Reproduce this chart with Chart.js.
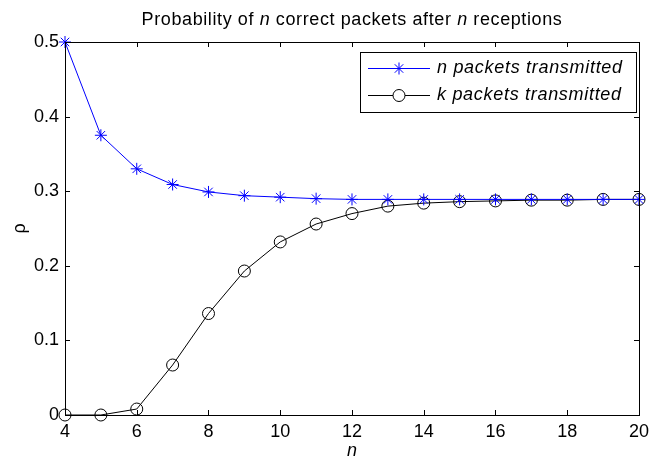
<!DOCTYPE html>
<html>
<head>
<meta charset="utf-8">
<script src="https://cdn.jsdelivr.net/npm/chart.js@4.4.1/dist/chart.umd.min.js"></script>
<style>
  html, body { margin: 0; padding: 0; background: #fff; }
  #wrap { width: 655px; height: 464px; }
</style>
</head>
<body>
<div id="wrap"><canvas id="chartProb"></canvas></div>
<script>
// numero di ricezioni n
const nValues = [4, 5, 6, 7, 8, 9, 10, 11, 12, 13, 14, 15, 16, 17, 18, 19, 20];
// n pacchetti trasmessi
const probN = [0.5, 0.375, 0.33, 0.309, 0.299, 0.294, 0.292, 0.290, 0.289, 0.289, 0.289, 0.289, 0.289, 0.289, 0.289, 0.289, 0.289];
// k pacchetti trasmessi
const probK = [0, 0, 0.008, 0.067, 0.136, 0.193, 0.232, 0.256, 0.270, 0.280, 0.284, 0.286, 0.287, 0.288, 0.288, 0.289, 0.289];
const seriesLabels = ["n packets transmitted", "k packets transmitted"];
const xTicks = [4, 6, 8, 10, 12, 14, 16, 18, 20];

const FONT = "Arial, 'Liberation Sans', sans-serif";
const FS = 18;

// --- box, tacche interne, titolo, etichette assi e legenda ---
const matlabFrame = {
  id: "matlabFrame",
  afterDraw(chart) {
    const ctx = chart.ctx;
    const a = chart.chartArea;
    const xs = chart.scales.x, ys = chart.scales.y;
    ctx.save();
    ctx.strokeStyle = "#000";
    ctx.lineWidth = 1;
    ctx.strokeRect(Math.round(a.left) + 0.5, Math.round(a.top) + 0.5,
                   Math.round(a.right - a.left), Math.round(a.bottom - a.top));
    ctx.beginPath();
    xs.ticks.forEach(t => {
      const px = Math.round(xs.getPixelForValue(t.value)) + 0.5;
      ctx.moveTo(px, a.bottom); ctx.lineTo(px, a.bottom - 5);
      ctx.moveTo(px, a.top); ctx.lineTo(px, a.top + 5);
    });
    ys.ticks.forEach(t => {
      const py = Math.round(ys.getPixelForValue(t.value)) + 0.5;
      ctx.moveTo(a.left, py); ctx.lineTo(a.left + 5, py);
      ctx.moveTo(a.right, py); ctx.lineTo(a.right - 5, py);
    });
    ctx.stroke();

    // titolo con n in corsivo
    ctx.letterSpacing = "0.6px";
    const parts = [["Probability of ", ""], ["n", "italic "], [" correct packets after ", ""], ["n", "italic "], [" receptions", ""]];
    let total = 0;
    parts.forEach(p => { ctx.font = p[1] + FS + "px " + FONT; total += ctx.measureText(p[0]).width; });
    let x = (a.left + a.right) / 2 - total / 2;
    ctx.fillStyle = "#000";
    ctx.textBaseline = "middle";
    ctx.textAlign = "left";
    parts.forEach(p => {
      ctx.font = p[1] + FS + "px " + FONT;
      ctx.fillText(p[0], x, 20);
      x += ctx.measureText(p[0]).width;
    });
    ctx.letterSpacing = "0px";

    // etichette assi
    ctx.font = "italic " + FS + "px " + FONT;
    ctx.textAlign = "center";
    ctx.fillText("n", (a.left + a.right) / 2, 451);
    ctx.save();
    ctx.translate(20, (a.top + a.bottom) / 2);
    ctx.rotate(-Math.PI / 2);
    ctx.font = FS + "px " + FONT;
    ctx.fillText("ρ", 0, 0);
    ctx.restore();

    // legenda
    const lg = { left: 360, top: 52, right: 636, bottom: 112 };
    ctx.fillStyle = "#fff";
    ctx.fillRect(lg.left, lg.top, lg.right - lg.left, lg.bottom - lg.top);
    ctx.strokeStyle = "#000";
    ctx.strokeRect(lg.left + 0.5, lg.top + 0.5, lg.right - lg.left, lg.bottom - lg.top);
    const rows = [68, 95];
    chart.data.datasets.forEach((ds, i) => {
      const y = rows[i];
      ctx.strokeStyle = ds.borderColor;
      ctx.lineWidth = 1;
      ctx.beginPath();
      ctx.moveTo(368, y + 0.5); ctx.lineTo(430, y + 0.5);
      ctx.stroke();
      ctx.fillStyle = i === 0 ? ds.borderColor : "#fff";
      Chart.helpers.drawPoint(ctx, {
        pointStyle: ds.pointStyle, radius: ds.pointRadius, borderWidth: 1, rotation: 0
      }, 399, y + 0.5);
      ctx.fillStyle = "#000";
      ctx.font = "italic " + FS + "px " + FONT;
      ctx.textAlign = "left";
      ctx.letterSpacing = "0.7px";
      ctx.fillText(ds.label, 437, y);
      ctx.letterSpacing = "0px";
    });
    ctx.restore();
  }
};

const chartProb = new Chart(document.getElementById("chartProb"), {
  type: "line",
  data: {
    datasets: [
      {
        label: seriesLabels[0],
        data: nValues.map((n, i) => ({ x: n, y: probN[i] })),
        borderColor: "#0000ff", backgroundColor: "#0000ff",
        borderWidth: 1, pointStyle: "star", pointRadius: 6,
        pointBorderColor: "#0000ff", pointBorderWidth: 1, clip: false
      },
      {
        label: seriesLabels[1],
        data: nValues.map((n, i) => ({ x: n, y: probK[i] })),
        borderColor: "#000000", backgroundColor: "rgba(0,0,0,0)",
        borderWidth: 1, pointStyle: "circle", pointRadius: 6,
        pointBorderColor: "#000000", pointBorderWidth: 1, clip: false
      }
    ]
  },
  options: {
    responsive: true, maintainAspectRatio: false, animation: false,
    layout: { padding: { top: 42, right: 12, left: 0, bottom: 0 } },
    plugins: { legend: { display: false }, tooltip: { enabled: false } },
    elements: { line: { tension: 0 } },
    scales: {
      x: {
        type: "linear", min: 4, max: 20,
        afterBuildTicks: s => { s.ticks = xTicks.map(v => ({ value: v })); },
        afterFit: s => { s.height = 49; },
        grid: { display: false, drawTicks: false },
        border: { display: false },
        ticks: { color: "#000", padding: 6, maxRotation: 0, font: { family: FONT, size: FS } }
      },
      y: {
        min: 0, max: 0.5,
        afterFit: s => { s.width = 65; },
        grid: { display: false, drawTicks: false },
        border: { display: false },
        ticks: { stepSize: 0.1, color: "#000", padding: 6, font: { family: FONT, size: FS } }
      }
    }
  },
  plugins: [matlabFrame]
});
</script>
</body>
</html>
